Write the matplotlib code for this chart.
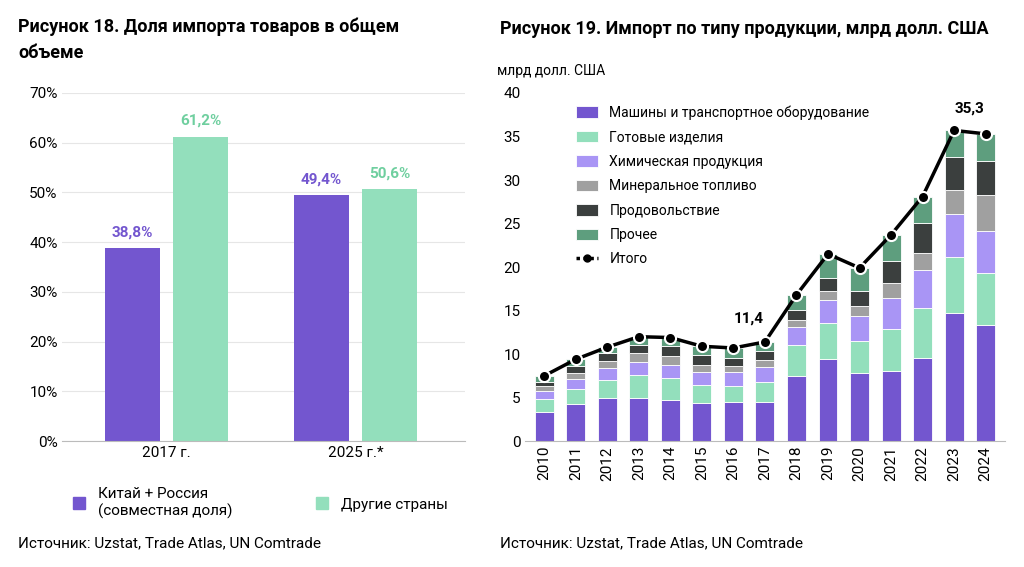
import numpy as np
import matplotlib.pyplot as plt
from matplotlib.patches import Patch
from matplotlib.lines import Line2D

plt.rcParams['font.family'] = ['Roboto', 'DejaVu Sans']

# Figure 18
groups = ['2017 г.', '2025 г.*']
china_russia = [38.8, 49.4]
other_countries = [61.2, 50.6]

# Figure 19
years = [str(y) for y in range(2010, 2025)]
machinery = [3.4, 4.3, 4.9, 5.0, 4.7, 4.4, 4.5, 4.5, 7.5, 9.4, 7.8, 8.1, 9.5, 14.7, 13.3]
finished = [1.4, 1.7, 2.1, 2.6, 2.5, 2.0, 1.8, 2.3, 3.5, 4.2, 3.7, 4.8, 5.8, 6.5, 6.0]
chemical = [1.0, 1.1, 1.4, 1.5, 1.6, 1.5, 1.6, 1.7, 2.1, 2.6, 2.9, 3.6, 4.4, 4.9, 4.9]
fuel = [0.5, 0.7, 0.8, 1.0, 1.0, 0.8, 0.7, 0.8, 0.8, 1.0, 1.1, 1.7, 1.9, 2.7, 4.1]
food = [0.5, 0.8, 0.9, 1.0, 1.1, 1.2, 1.0, 1.0, 1.2, 1.6, 1.8, 2.5, 3.5, 3.8, 3.9]
other = [0.7, 0.8, 0.7, 0.9, 1.0, 1.0, 1.1, 1.1, 1.7, 2.7, 2.6, 3.0, 3.0, 3.1, 3.1]
series_names = ['Машины и транспортное оборудование', 'Готовые изделия', 'Химическая продукция',
                'Минеральное топливо', 'Продовольствие', 'Прочее']
colors = ['#7356cf', '#93dfbc', '#a995f5', '#a0a0a0', '#3b3f3e', '#5e9e7e']

purple = '#7356cf'
green = '#93dfbc'

fig = plt.figure(figsize=(10.24, 5.67), dpi=100)
ax1 = fig.add_axes([0.061, 0.222, 0.393, 0.614])
ax2 = fig.add_axes([0.513, 0.222, 0.468, 0.614])

# left chart
x = np.arange(len(groups))
w = 0.29
off = 0.18
ax1.bar(x - off, china_russia, w, color=purple)
ax1.bar(x + off, other_countries, w, color=green)
for i in range(len(groups)):
    ax1.text(x[i] - off, china_russia[i] + 1.8, f'{china_russia[i]:.1f}%'.replace('.', ','),
             ha='center', va='bottom', color=purple, fontsize=11, fontweight='bold')
    ax1.text(x[i] + off, other_countries[i] + 1.8, f'{other_countries[i]:.1f}%'.replace('.', ','),
             ha='center', va='bottom', color='#6fcf9f', fontsize=11, fontweight='bold')
ax1.set_ylim(0, 70)
ax1.set_xlim(-0.55, 1.58)
ax1.set_yticks(range(0, 71, 10))
ax1.set_yticklabels([f'{v}%' for v in range(0, 71, 10)])
ax1.set_xticks(x)
ax1.set_xticklabels(groups)
ax1.yaxis.grid(True, color='#e6e6e6')
ax1.set_axisbelow(True)
for s in ['top', 'right', 'left']:
    ax1.spines[s].set_visible(False)
ax1.spines['bottom'].set_color('#bbbbbb')
ax1.tick_params(length=0, labelsize=11)
fig.text(0.018, 0.89, 'Рисунок 18. Доля импорта товаров в общем\nобъеме', fontsize=13,
         fontweight='bold', va='bottom', linespacing=1.6)
fig.legend(handles=[Patch(color=purple), Patch(color=green)],
           labels=['Китай + Россия\n(совместная доля)', 'Другие страны'],
           loc='upper left', bbox_to_anchor=(0.058, 0.165), ncol=2, frameon=False,
           fontsize=11, handlelength=0.8, handleheight=0.8, columnspacing=5.5)
fig.text(0.018, 0.035, 'Источник: Uzstat, Trade Atlas, UN Comtrade', fontsize=11)

# right chart
xs = np.arange(len(years))
stack = [machinery, finished, chemical, fuel, food, other]
bottom = np.zeros(len(years))
for vals, c, n in zip(stack, colors, series_names):
    ax2.bar(xs, vals, 0.6, bottom=bottom, color=c, label=n, edgecolor='white', linewidth=0.6)
    bottom += np.array(vals)
total = bottom
ax2.plot(xs, total, color='black', lw=2.5, marker='o', markersize=8,
         markeredgecolor='white', markeredgewidth=1.5, label='Итого')
ax2.text(xs[7] - 0.5, total[7] + 2.2, '11,4', ha='center', fontsize=11, fontweight='bold')
ax2.text(xs[-1] - 0.5, total[-1] + 2.5, '35,3', ha='center', fontsize=11, fontweight='bold')
ax2.set_ylim(0, 40)
ax2.set_xlim(-0.6, len(years) - 0.4)
ax2.set_yticks(range(0, 41, 5))
ax2.set_xticks(xs)
ax2.set_xticklabels(years, rotation=90)
for s in ['top', 'right', 'left']:
    ax2.spines[s].set_visible(False)
ax2.spines['bottom'].set_color('#bbbbbb')
ax2.tick_params(length=0, labelsize=11)
h, l = ax2.get_legend_handles_labels()
h = h[1:] + [Line2D([0], [0], color='black', lw=2.5, ls=(0, (1, 1)), marker='o', markersize=5)]
l = l[1:] + ['Итого']
ax2.legend(h, l, loc='upper left', bbox_to_anchor=(0.08, 1.0), frameon=False, fontsize=10,
           handlelength=1.6, handleheight=0.9, labelspacing=0.75)
fig.text(0.488, 0.933, 'Рисунок 19. Импорт по типу продукции, млрд долл. США', fontsize=13,
         fontweight='bold', va='bottom')
fig.text(0.485, 0.868, 'млрд долл. США', fontsize=10)
fig.text(0.488, 0.035, 'Источник: Uzstat, Trade Atlas, UN Comtrade', fontsize=11)

fig.savefig('out.png', dpi=100)
